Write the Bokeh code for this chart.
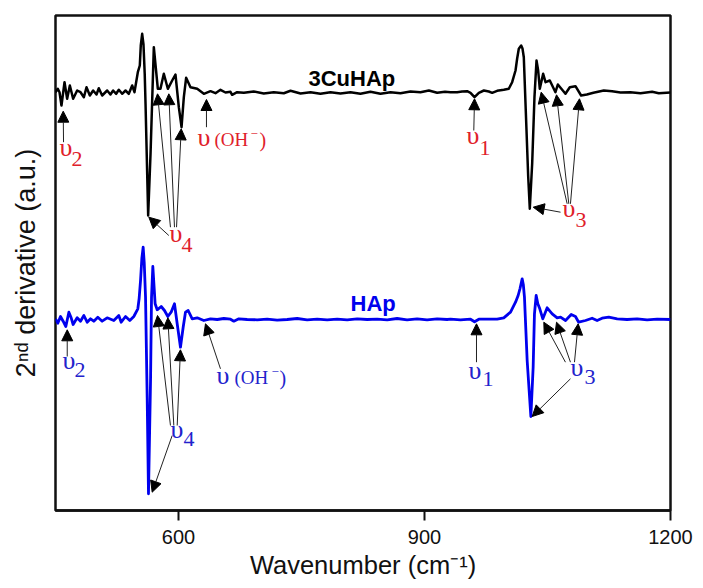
from bokeh.embed import file_html
from bokeh.models import Arrow, FixedTicker, Label, NormalHead, Range1d
from bokeh.plotting import figure
from bokeh.resources import INLINE

# spectra, y is arbitrary units
cu_x = [450, 452.8, 454.9, 457.3, 461, 464.2, 467.5, 471.5, 476.4, 480.5, 484.6, 487.8, 491.9, 495.9, 500, 502.8,
        506.9, 513, 517, 520.3, 524, 527.2, 531.3, 535.4, 539.4, 543.5, 546.3, 550.4, 552.8, 554, 555.7, 557.3, 558.8, 559.8, 563,
        565.9, 569.9, 574.8, 578, 582.1, 587, 592.3, 596.3, 600.4, 603.7, 606.5, 609.3, 614.6, 622.8, 630.9, 639,
        645.1, 651.2, 657.3, 663.4, 665.4, 671.5, 679.7, 691.8, 704, 716.2, 728.4, 736.6, 748.8, 761, 773.1, 785.3,
        797.5, 809.7, 821.9, 834.1, 846.3, 858.5, 870.7, 882.9, 895.1, 905.3, 915.4, 925, 931.7, 939.8, 945.9, 952,
        956.1, 961, 966.3, 972.4, 978.4, 982.5, 988.6, 996.7, 1002.8, 1006.9, 1011, 1013, 1015, 1017.9, 1019.5, 1021.1, 1024.4,
        1026.4, 1028.4, 1031.3, 1034.1, 1036.6, 1038.6, 1040.6, 1044.7, 1047.6, 1052.8, 1059.7, 1062.6, 1067.9, 1071.9,
        1077.2, 1084.1, 1091, 1098, 1106, 1118.7, 1128.8, 1139, 1151, 1163.4, 1177.6, 1185.7, 1200]
cu_y = [418.3, 421.7, 418.3, 405, 428.3, 411.7, 425, 411.7, 420, 418.3, 413.3, 423.3, 415, 420, 416, 422.3,
        415, 420, 416, 420, 416.7, 420.7, 416.7, 420, 416.7, 425, 418.3, 438.3, 445, 465, 476.7, 466, 436.7, 406.7, 295,
        356.7, 463.3, 421.7, 421.7, 436.7, 421.7, 430, 436, 403.3, 383.3, 413.3, 432.7, 423.3, 421.7, 416.7, 419.3,
        417.3, 420.7, 418, 418.7, 415.7, 418.3, 417.7, 419, 417, 418.3, 417.3, 419.7, 417, 418.3, 416.7, 418.3,
        417, 418.3, 416.7, 418.7, 416.7, 418.3, 417.3, 419, 418.3, 420, 417.7, 418.7, 418.3, 418.3, 419, 419.3,
        417.7, 413.3, 417.7, 420, 419, 417.7, 419.7, 420.7, 421.7, 428.3, 440, 452, 461.7, 465, 462, 453.3, 380,
        335, 301.7, 346.7, 413.3, 450, 440, 421.7, 436.7, 428.3, 430, 418.3, 426, 420.7, 416.7,
        423.3, 424.3, 415, 416, 417.7, 420, 419.3, 418, 418.3, 417.3, 418.7, 417.3, 418]

hap_x = [450, 452.8, 456.1, 459.3, 462.6, 466.3, 469.1, 471.5, 476.4, 480.5, 484.6, 488.6, 492.7, 496.7, 501.6,
         506.9, 513, 521.1, 527.2, 530.1, 535.4, 540.6, 545.5, 550.4, 552, 553.7, 555.3, 556.9, 558.2, 559.8, 561.8, 563.4, 565.9,
         567.1, 568.7, 571.5, 574, 578.9, 582.9, 587, 591, 595.1, 598.4, 602.4, 605.7, 608.5, 611.8, 616.7, 622.8,
         630.9, 639, 647.2, 655.3, 663.4, 667.5, 673.6, 683.7, 695.9, 708.1, 720.3, 732.5, 744.7, 756.9, 769.1,
         781.3, 793.5, 805.7, 817.9, 830.1, 842.3, 854.5, 866.6, 878.8, 891, 903.2, 915.4, 927.6, 931.7, 943.9,
         956.1, 961, 966.3, 976.4, 988.6, 996.7, 1004.9, 1011, 1014.2, 1016.5, 1019.1, 1020.5, 1021.9, 1025.2, 1029.7, 1032.5,
         1034.1, 1036.2, 1038.2, 1040.6, 1044.3, 1049.6, 1055.7, 1061.8, 1065.9, 1072, 1078.9, 1084.1, 1088,
         1096.3, 1104.4, 1110.5, 1116.6, 1124.7, 1135, 1147, 1159.3, 1171.5, 1183.7, 1200]
hap_y = [191.7, 187.3, 194, 189.3, 184, 198.3, 192.7, 186, 192.7, 189.3, 195, 188.3, 191.7, 189.3, 193.3,
         189.3, 192.7, 190, 195, 188.3, 194, 190, 194, 201.7, 212, 230, 252, 263.3, 248, 213.3, 113.3, 16.7, 130,
         213.3, 244, 206.7, 200.7, 204, 200, 194, 198.3, 206.7, 186.7, 163.3, 183.3, 198.3, 200, 191.7, 192.7,
         190, 191.7, 191, 192, 191.3, 189.3, 191.7, 191, 190.7, 191.3, 190.3, 191, 192, 190.7, 191.3,
         190.7, 191.3, 190.7, 191.7, 191, 191.3, 190.7, 192, 190.7, 191.7, 190.7, 191.7, 191, 191.3, 190.7,
         191.3, 188.7, 191.3, 191.3, 191.3, 192.7, 198.3, 208.3, 215, 222, 231.7, 226, 213.3, 150, 94, 143.3,
         196.7, 215, 206.7, 201.7, 191.7, 202.7, 196.7, 192.7, 193.3, 190, 196, 194, 188.3,
         190, 192.3, 190, 192.3, 193.3, 191.7, 191, 191.7, 190.7, 191.3, 191]

# peak markers as (tail x, tail y, head x, head y)
arrows = [
    (459.8, 368.3, 459.4, 399.3), (634.1, 383.3, 634.1, 411), (590.2, 283.3, 574.4, 416.7),
    (595.1, 283.3, 588.2, 416.7), (597.6, 283.3, 603.3, 381.7), (588.2, 275, 563.8, 293.3),
    (960.1, 380, 961, 411.7), (1065.9, 298.3, 1032.6, 303.3), (1074, 306.7, 1042.3, 418.3),
    (1076, 306.7, 1061, 415.7), (1078, 306.7, 1089, 411.7),
    (464.3, 154, 464.3, 180.7), (651.2, 141.7, 632.9, 186.7), (590.2, 85, 574.4, 195),
    (594.3, 85, 587, 192.7), (598.4, 85, 602.4, 160.7), (592.3, 75, 567.9, 18.3),
    (963.4, 148.3, 963.4, 186.7), (1071.9, 148.3, 1045.5, 188.3), (1078, 148.3, 1061, 188.3),
    (1082.9, 148.3, 1087.4, 186.7), (1078, 131.7, 1031.3, 94),
]

RED = "#e0202a"
BLUE = "#2222cc"
SERIF = "Liberation Serif"
SANS = "Liberation Sans"

# text, page x, page y, size, colour, font, style
labels = [
    ("υ", 59, 157, 26, RED, SERIF, "normal"), ("2", 71, 167, 22, RED, SERIF, "normal"),
    ("υ", 197, 147, 26, RED, SERIF, "normal"), ("(OH", 214, 147, 19, RED, SERIF, "normal"),
    ("−", 250, 139, 13, RED, SERIF, "normal"), (")", 259, 147, 20, RED, SERIF, "normal"),
    ("υ", 169, 243, 26, RED, SERIF, "normal"), ("4", 181, 253, 22, RED, SERIF, "normal"),
    ("υ", 466, 145, 26, RED, SERIF, "normal"), ("1", 479, 156, 22, RED, SERIF, "normal"),
    ("υ", 562, 218, 26, RED, SERIF, "normal"), ("3", 575, 228, 22, RED, SERIF, "normal"),
    ("υ", 62, 370, 26, BLUE, SERIF, "normal"), ("2", 74, 378, 22, BLUE, SERIF, "normal"),
    ("υ", 216, 385, 26, BLUE, SERIF, "normal"), ("(OH", 234, 385, 19, BLUE, SERIF, "normal"),
    ("−", 271, 377, 13, BLUE, SERIF, "normal"), (")", 279, 385, 20, BLUE, SERIF, "normal"),
    ("υ", 170, 439, 26, BLUE, SERIF, "normal"), ("4", 183, 447, 22, BLUE, SERIF, "normal"),
    ("υ", 468, 380, 26, BLUE, SERIF, "normal"), ("1", 482, 387, 22, BLUE, SERIF, "normal"),
    ("υ", 570, 377, 26, BLUE, SERIF, "normal"), ("3", 584, 385, 22, BLUE, SERIF, "normal"),
    ("3CuHAp", 308, 87, 22, "black", SANS, "bold"),
    ("HAp", 350, 312, 22, "#0000ee", SANS, "bold"),
]

p = figure(width=702, height=586, output_backend="svg", toolbar_location=None,
           x_range=Range1d(450, 1200), y_range=Range1d(0, 495),
           min_border_left=55, min_border_right=32, min_border_top=15, min_border_bottom=76)
p.grid.visible = False
p.outline_line_color = "#111111"
p.outline_line_width = 2.5
p.background_fill_color = "white"

ax = p.xaxis[0]
ax.ticker = FixedTicker(ticks=[600, 900, 1200])
ax.axis_line_color = "#111111"
ax.axis_line_width = 2.5
ax.major_tick_line_color = "#111111"
ax.major_tick_line_width = 2
ax.major_tick_out = 10
ax.major_tick_in = 0
ax.minor_tick_line_color = None
ax.major_label_text_font = SANS
ax.major_label_text_font_size = "20px"
ax.major_label_text_color = "#111111"
ax.major_label_standoff = 9
ax.axis_label = "Wavenumber (cm⁻¹)"
ax.axis_label_text_font = SANS
ax.axis_label_text_font_style = "normal"
ax.axis_label_text_font_size = "25.5px"
ax.axis_label_text_color = "#111111"
ax.axis_label_standoff = 4

ay = p.yaxis[0]
ay.ticker = FixedTicker(ticks=[])
ay.axis_line_color = None
ay.major_tick_line_color = None
ay.minor_tick_line_color = None
ay.axis_label = "2ⁿᵈ derivative (a.u.)"
ay.axis_label_text_font = SANS
ay.axis_label_text_font_style = "normal"
ay.axis_label_text_font_size = "27px"
ay.axis_label_text_color = "#111111"
ay.axis_label_standoff = 15

p.line(cu_x, cu_y, line_color="black", line_width=2.5, line_join="round")
p.line(hap_x, hap_y, line_color="#0000ee", line_width=2.8, line_join="round")

for x0, y0, x1, y1 in arrows:
    head = NormalHead(size=11, fill_color="black", line_color="black", line_width=1)
    p.add_layout(Arrow(end=head, x_start=x0, y_start=y0, x_end=x1, y_end=y1,
                       line_color="#222222", line_width=1))

# labels are placed by page pixels, converted to the data scales
for text, px, py, size, color, font, style in labels:
    p.add_layout(Label(x=450 + (px - 55) / 0.82, y=510 - py + 0.4 * size, text=text, text_font=font,
                       text_font_size=f"{size}px", text_color=color, text_font_style=style,
                       text_baseline="alphabetic", text_align="left"))

open("out.html", "w").write(file_html(p, INLINE))
